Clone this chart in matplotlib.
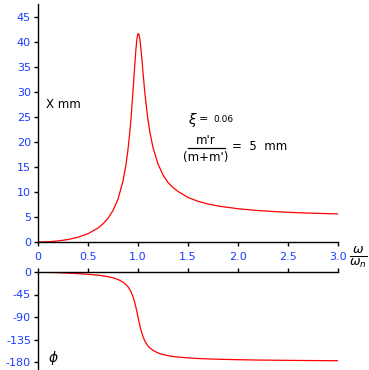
import matplotlib
matplotlib.use("Agg")
import matplotlib.pyplot as plt

# frequency ratio w/wn and readings
ratio = [0, 0.1, 0.2, 0.3, 0.4, 0.5, 0.6, 0.65, 0.7, 0.75, 0.8, 0.85, 0.88, 0.9, 0.92, 0.93,
         0.95, 0.96, 0.97, 0.98, 0.99, 1.0, 1.01, 1.02, 1.03, 1.04, 1.05, 1.06, 1.07, 1.08,
         1.1, 1.12, 1.15, 1.2, 1.25, 1.3, 1.35, 1.4, 1.5, 1.6, 1.7, 1.8, 2.0, 2.2, 2.4,
         2.6, 2.8, 3.0]
amp_mm = [0, 0.05, 0.21, 0.49, 0.95, 1.66, 2.8, 3.63, 4.74, 6.3, 8.59, 12.2, 15.5, 18.5, 22.4, 24.7,
          30.1, 33.1, 36.0, 38.7, 40.7, 41.7, 41.5, 40.4, 38.5, 36.3, 33.9, 31.7, 29.6, 27.7,
          24.4, 21.8, 18.9, 15.6, 13.4, 11.9, 10.9, 10.1, 8.91, 8.14, 7.6, 7.2, 6.65, 6.29, 6.04,
          5.86, 5.72, 5.62]
phase_deg = [0, -0.7, -1.4, -2.3, -3.3, -4.6, -6.4, -7.7, -9.4, -11.6, -14.9, -20.2, -25.1, -29.6, -35.7, -39.6,
             -49.5, -55.8, -63.1, -71.4, -80.5, -90, -99.4, -108.3, -116.2, -123.2, -129.1, -134.2, -138.5, -142.1,
             -147.9, -152.2, -156.8, -161.9, -165.1, -167.3, -168.9, -170.1, -171.8, -173.0, -173.8, -174.5,
             -175.4, -176.1, -176.5, -176.9, -177.2, -177.4]

amp_ticks = [0, 5, 10, 15, 20, 25, 30, 35, 40, 45]
phase_ticks = [0, -45, -90, -135, -180]
x_ticks = [0, 0.5, 1.0, 1.5, 2.0, 2.5, 3.0]
x_labels = ["0", "0.5", "1.0", "1.5", "2.0", "2.5", "3.0"]

blue = "#1a3cff"
W, H = 369, 370

fig = plt.figure(figsize=(W / 100, H / 100), dpi=100)

# amplitude plot
ax = fig.add_axes([38 / W, 1 - 242 / H, 300 / W, 238 / H])
ax.plot(ratio, amp_mm, color="red", lw=0.9)
ax.set_xlim(0, 3)
ax.set_ylim(0, 47.6)
ax.spines["top"].set_visible(False)
ax.spines["right"].set_visible(False)
ax.set_yticks(amp_ticks)
ax.set_xticks(x_ticks)
ax.set_xticklabels(x_labels)
ax.tick_params(length=3, width=1, labelsize=8, labelcolor=blue, pad=2)
ax.tick_params(axis="x", pad=4)

# phase plot
ax2 = fig.add_axes([38 / W, 1 - 369 / H, 300 / W, 97 / H])
ax2.plot(ratio, phase_deg, color="red", lw=0.9)
ax2.set_xlim(0, 3)
ax2.set_ylim(-194, 0)
ax2.spines["bottom"].set_visible(False)
ax2.spines["right"].set_visible(False)
ax2.set_yticks(phase_ticks)
ax2.set_yticklabels(["0", "-45", "-90", "-135", "-180"])
ax2.xaxis.tick_top()
ax2.set_xticks(x_ticks)
ax2.set_xticklabels([])
ax2.tick_params(length=3, width=1, labelsize=8, labelcolor=blue, pad=2)

for a in (ax, ax2):
    for s in a.spines.values():
        s.set_linewidth(1)

# texts
def px(x, y):
    return x / W, 1 - y / H

fig.text(*px(46, 105), "X mm", fontsize=8.5, va="center", ha="left")
fig.text(*px(48, 358), r"$\phi$", fontsize=10, va="center", ha="left")
fig.text(*px(358, 257), r"$\frac{\omega}{\omega_n}$", fontsize=13, va="center", ha="center")
fig.text(*px(188, 120), r"$\xi$", fontsize=10, va="center", ha="left")
fig.text(*px(199, 119), "=", fontsize=8, va="center", ha="left")
fig.text(*px(213, 120), "0.06", fontsize=6.5, va="center", ha="left")
fig.text(*px(206, 141), "m'r", fontsize=8.5, va="center", ha="center")
fig.add_artist(plt.Line2D([188 / W, 225 / W], [1 - 148 / H, 1 - 148 / H], color="black", lw=0.9))
fig.text(*px(206, 157), "(m+m')", fontsize=8.5, va="center", ha="center")
fig.text(*px(232, 147), "=  5  mm", fontsize=8.5, va="center", ha="left")

fig.savefig("out.png", dpi=100)
